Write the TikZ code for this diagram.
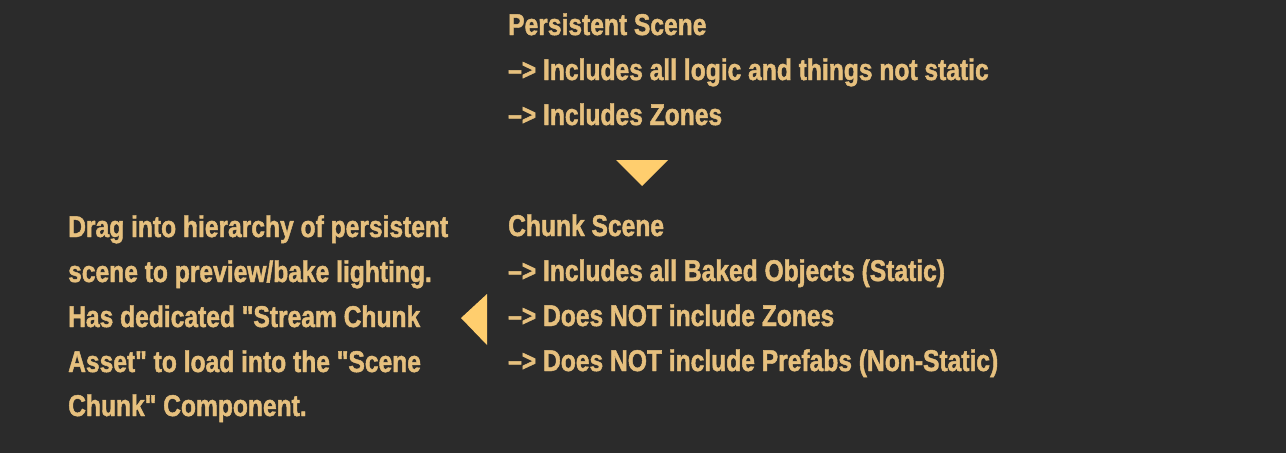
\documentclass[tikz,border=0pt]{standalone}
\usepackage{fontspec}
\setmainfont[FakeStretch=0.82,Ligatures=TeXOff,BoldFeatures={FakeBold=1.5}]{Liberation Sans}
\definecolor{bg}{HTML}{2B2B2B}
\definecolor{txt}{HTML}{E6C07E}
\definecolor{tri}{HTML}{FFCE6E}
\begin{document}
\begin{tikzpicture}[x=1pt,y=-1pt,
  line/.style={anchor=base west,inner sep=0pt,text=txt,font=\fontsize{30}{36}\selectfont\bfseries},
  arrowtri/.style={fill=tri,draw=none}]
\fill[bg] (0,0) rectangle (1286,453);
\useasboundingbox (0,0) rectangle (1286,453);
\node[line] (p1) at (508,35) {Persistent Scene};
\node[line] (p2) at (508,80) {–> Includes all logic and things not static};
\node[line] (p3) at (508,125) {–> Includes Zones};
\node[line] (c1) at (508,236) {Chunk Scene};
\node[line] (c2) at (508,281) {–> Includes all Baked Objects (Static)};
\node[line] (c3) at (508,326) {–> Does NOT include Zones};
\node[line] (c4) at (508,371) {–> Does NOT include Prefabs (Non-Static)};
\node[line] (l1) at (68,237) {Drag into hierarchy of persistent};
\node[line] (l2) at (68,282) {scene to preview/bake lighting.};
\node[line] (l3) at (68,327) {Has dedicated "Stream Chunk};
\node[line] (l4) at (68,372) {Asset" to load into the "Scene};
\node[line] (l5) at (68,416) {Chunk" Component.};
\fill[arrowtri] (616,160) -- (668,160) -- (642,186) -- cycle;
\fill[arrowtri] (487,294) -- (487,345) -- (461,318) -- cycle;
\end{tikzpicture}
\end{document}
